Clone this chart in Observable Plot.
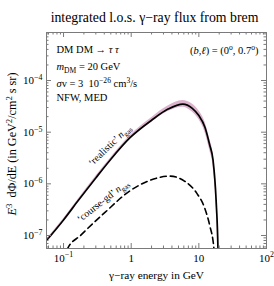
<!DOCTYPE html>
<html><head><meta charset="utf-8">
<script src="https://cdn.jsdelivr.net/npm/d3@7"></script>
<script src="https://cdn.jsdelivr.net/npm/@observablehq/plot@0.6"></script>
<style>body{margin:0;background:#fff}</style>
</head><body><div id="chart"></div>
<script>
// 'realistic' n_gas curve with uncertainty band
const energy = [0.056, 0.1, 0.166, 0.3, 0.49, 0.97, 2.0, 3.5, 5.8, 8.0, 10, 12.3, 14.5, 16.2, 18, 19.2, 19.6];
const fluxRealistic = [8e-8, 2.0e-7, 4.8e-7, 1.3e-6, 2.9e-6, 7.9e-6, 1.7e-5, 2.8e-5, 3.5e-5, 2.9e-5, 2.1e-5, 1.25e-5, 5.6e-6, 2.9e-6, 4.8e-7, 5e-8, 1e-8];
const bandHigh = [8.4e-8, 2.1e-7, 5.1e-7, 1.4e-6, 3.1e-6, 8.6e-6, 1.9e-5, 3.2e-5, 4.1e-5, 3.5e-5, 2.6e-5, 1.6e-5, 7.4e-6, 3.8e-6, 6.5e-7, 7e-8, 1.5e-8];
const bandLow = [7.7e-8, 1.9e-7, 4.6e-7, 1.25e-6, 2.75e-6, 7.4e-6, 1.55e-5, 2.5e-5, 3.05e-5, 2.45e-5, 1.75e-5, 1.0e-5, 4.4e-6, 2.2e-6, 3.5e-7, 3.5e-8, 7e-9];
// 'course-gd' n_gas curve
const energyCoarse = [0.1, 0.115, 0.178, 0.41, 0.97, 1.9, 3.7, 6.2, 9.3, 12.3, 14.5, 16.7, 17.2];
const fluxCoarse = [3.5e-8, 5.6e-8, 1.0e-7, 2.8e-7, 7.4e-7, 1.17e-6, 1.41e-6, 1.12e-6, 6.6e-7, 3.3e-7, 1.55e-7, 5.6e-8, 3.2e-8];

const xMajor = [0.1, 1, 10, 100];
const xMajorLabels = ["10^{−1}", "1", "10", "10^{2}"];
const yMajor = [1e-7, 1e-6, 1e-5, 1e-4];
const yMajorLabels = ["10^{−7}", "10^{−6}", "10^{−5}", "10^{−4}"];
const xDomain = [0.056, 100];
const yDomain = [5.6e-8, 8.5e-4];

const title = "integrated l.o.s. γ−ray flux from brem";
const xLabel = "γ−ray energy in GeV";
const yLabel = "*E*^{3}  dΦ/dE (in GeV^{2}/cm^{2} s sr)";
const notes = ["DM DM → *τ* *τ*", "*m*_{DM} = 20 GeV", "*σ*v = 3  10^{−26} cm^{3}/s", "NFW, MED"];
const skyNote = "(*b*,*ℓ*) = (0^{o}, 0.7^{o})";
const curveLabels = [
  {E: 0.48, v: 5.6e-6, text: "‘realistic’ *n*_{gas}", rotate: -44},
  {E: 0.38, v: 4.7e-7, text: "‘course-gd’ *n*_{gas}", rotate: -38}
];
// lengths (px) of the long labels as measured on the reference
const labelLengths = new Map([[title, 208], [xLabel, 95], [yLabel, 143]]);

const realistic = energy.map((E, i) => ({E, v: fluxRealistic[i], hi: bandHigh[i], lo: bandLow[i]}));
const coarse = energyCoarse.map((E, i) => ({E, v: fluxCoarse[i]}));

function minors(majors, lo, hi) {
  const out = [];
  for (const m of [majors[0] / 10, ...majors]) for (let k = 2; k <= 9; k++) {
    const v = m * k; if (v >= lo && v <= hi) out.push(v);
  }
  return out;
}
const xMinor = minors(xMajor, xDomain[0], xDomain[1]);
const yMinor = minors(yMajor, yDomain[0], yDomain[1]);

const W = 274, H = 286, mt = 32, mb = 38, ml = 46, mr = 8;
const iH = H - mt - mb, iW = W - ml - mr;
const serif = "Liberation Serif, Times New Roman, serif";
const frameColor = "#7a7a7a";
const noteDy = [13, 30, 47, 61];

const plot = Plot.plot({
  width: W, height: H,
  marginTop: mt, marginBottom: mb, marginLeft: ml, marginRight: mr,
  style: {fontFamily: serif, background: "#fff", overflow: "visible"},
  x: {type: "log", domain: xDomain, axis: null},
  y: {type: "log", domain: yDomain, axis: null},
  marks: [
    Plot.areaY(realistic, {x: "E", y1: "lo", y2: "hi", fill: "#dcb3cd", curve: "monotone-x", clip: true}),
    Plot.line(realistic, {x: "E", y: "v", stroke: "#000", strokeWidth: 1.7, curve: "monotone-x", clip: true}),
    Plot.line(coarse, {x: "E", y: "v", stroke: "#000", strokeWidth: 1.6, strokeDasharray: "6,4", curve: "monotone-x", clip: true}),
    // ticks (inward, all four sides)
    Plot.tickX(xMajor, {x: d => d, insetTop: iH - 5, stroke: frameColor}),
    Plot.tickX(xMajor, {x: d => d, insetBottom: iH - 5, stroke: frameColor}),
    Plot.tickX(xMinor, {x: d => d, insetTop: iH - 2.5, stroke: frameColor}),
    Plot.tickX(xMinor, {x: d => d, insetBottom: iH - 2.5, stroke: frameColor}),
    Plot.tickY(yMajor, {y: d => d, insetRight: iW - 5, stroke: frameColor}),
    Plot.tickY(yMajor, {y: d => d, insetLeft: iW - 5, stroke: frameColor}),
    Plot.tickY(yMinor, {y: d => d, insetRight: iW - 2.5, stroke: frameColor}),
    Plot.tickY(yMinor, {y: d => d, insetLeft: iW - 2.5, stroke: frameColor}),
    Plot.frame({stroke: frameColor}),
    // tick labels
    Plot.text(xMajor, {x: d => d, text: (d, i) => xMajorLabels[i], frameAnchor: "bottom", dy: 13, fontSize: 11, fill: "#000"}),
    Plot.text(yMajor, {y: d => d, text: (d, i) => yMajorLabels[i], frameAnchor: "left", textAnchor: "end", dx: -4, fontSize: 11, fill: "#000"}),
    // axis labels, title
    Plot.text([title], {frameAnchor: "top", dx: -2, dy: -20, fontSize: 12, fill: "#000"}),
    Plot.text([xLabel], {frameAnchor: "bottom", dy: 30, fontSize: 11, fill: "#000"}),
    Plot.text([yLabel], {frameAnchor: "left", textAnchor: "middle", dx: -34, dy: 3.5, rotate: -90, fontSize: 10.5, fill: "#000"}),
    // annotations
    ...notes.map((n, i) => Plot.text([n], {frameAnchor: "top-left", textAnchor: "start", dx: 10, dy: noteDy[i], fontSize: 10.5, fill: "#000"})),
    Plot.text([skyNote], {frameAnchor: "top-right", textAnchor: "end", dx: -8, dy: 14, fontSize: 10.5, fill: "#000"}),
    Plot.text(curveLabels, {x: "E", y: "v", text: "text", rotate: "rotate", textAnchor: "middle", fontSize: 10, fill: "#000"})
  ]
});
document.getElementById("chart").appendChild(plot);

// rich text: ^{sup}, _{sub}, *italic*
function richify(t, s, fs) {
  t.style.fontSize = fs + "px";
  const parts = s.split(/(\^\{[^}]*\}|_\{[^}]*\}|\*[^*]*\*)/).filter(p => p !== "");
  while (t.firstChild) t.removeChild(t.firstChild);
  let cur = 0;
  for (const p of parts) {
    const ts = document.createElementNS("http://www.w3.org/2000/svg", "tspan");
    let target = 0, txt = p;
    if (p.startsWith("^{")) { target = -0.38 * fs; txt = p.slice(2, -1); ts.setAttribute("font-size", 0.72 * fs); }
    else if (p.startsWith("_{")) { target = 0.25 * fs; txt = p.slice(2, -1); ts.setAttribute("font-size", 0.72 * fs); }
    else if (p.startsWith("*")) { txt = p.slice(1, -1); ts.setAttribute("font-style", "italic"); }
    if (target !== cur) ts.setAttribute("dy", target - cur);
    cur = target;
    ts.textContent = txt;
    t.appendChild(ts);
  }
}
plot.querySelectorAll("text").forEach(t => {
  const s = t.textContent;
  if (t.querySelector("tspan")) return;
  let fs = parseFloat(getComputedStyle(t).fontSize) || 10;
  if (/[\^_*]/.test(s)) richify(t, s, fs);
  if (labelLengths.has(s)) {
    const len = t.getComputedTextLength();
    if (len > 0) {
      fs = fs * labelLengths.get(s) / len;
      if (/[\^_*]/.test(s)) richify(t, s, fs); else t.style.fontSize = fs + "px";
    }
  }
});
</script></body></html>
